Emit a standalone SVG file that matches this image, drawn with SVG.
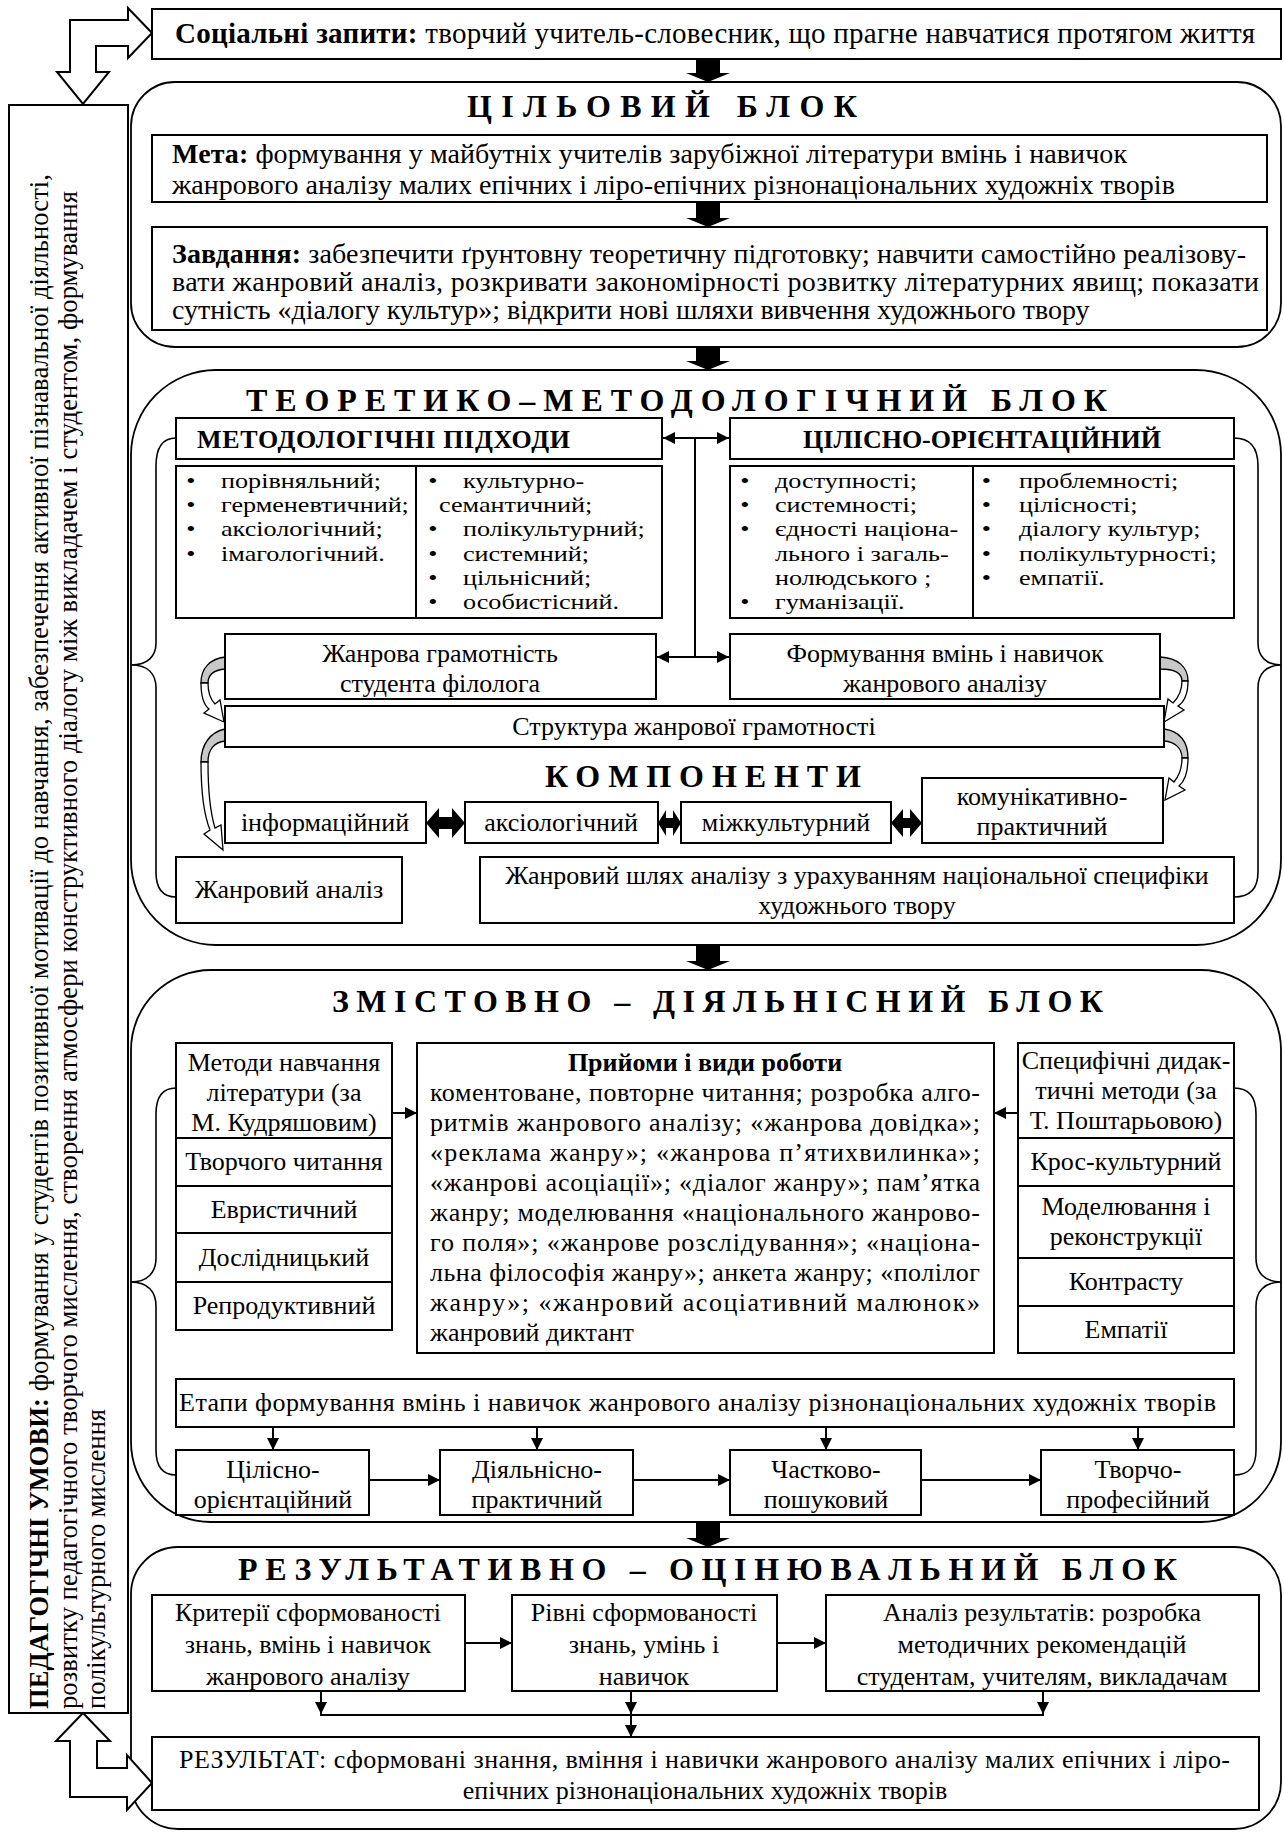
<svg xmlns="http://www.w3.org/2000/svg" width="1284" height="1832" viewBox="0 0 1284 1832">
<style>
.t{font-family:"Liberation Serif","Times New Roman",serif;font-size:26px;fill:#000}
.li{font-family:"Liberation Serif","Times New Roman",serif;font-size:21.8px;fill:#000}
.m{text-anchor:middle}
.b{font-weight:bold}
.h{font-family:"Liberation Serif","Times New Roman",serif;font-size:32px;font-weight:bold;fill:#000}
.box{fill:#fff;stroke:#000;stroke-width:2}
.blk{fill:#fff;stroke:#000;stroke-width:1.8}
.ln{fill:none;stroke:#000;stroke-width:2}
.br{fill:none;stroke:#000;stroke-width:1.6}
.fat{fill:#000;stroke:none}
.hol{fill:#fff;stroke:#000;stroke-width:2;stroke-linejoin:miter}
.gr{fill:#c8c8c8;stroke:#000;stroke-width:1.3}
.wh{fill:#fff;stroke:#000;stroke-width:1.3}
</style>
<defs>
<marker id="ah" viewBox="0 0 12 12" refX="12" refY="6" markerWidth="13" markerHeight="12" markerUnits="userSpaceOnUse" orient="auto-start-reverse"><path d="M0,0 L12,6 L0,12 z" fill="#000"/></marker>
</defs>
<rect width="1284" height="1832" fill="#fff"/>

<!-- outer blocks -->
<g id="block-goal"><rect class="blk" x="131" y="82" width="1150" height="265" rx="44"/><text class="h" x="467" y="117" textLength="390">ЦІЛЬОВИЙ БЛОК</text></g>
<g id="block-theory"><rect class="blk" x="131" y="370" width="1150" height="575" rx="85"/><text class="h" x="246" y="411" textLength="861">ТЕОРЕТИКО–МЕТОДОЛОГІЧНИЙ БЛОК</text></g>
<g id="block-content"><rect class="blk" x="131" y="970" width="1150" height="552" rx="80"/><text class="h" x="332" y="1012" textLength="771">ЗМІСТОВНО – ДІЯЛЬНІСНИЙ БЛОК</text></g>
<g id="block-result"><rect class="blk" x="131" y="1547" width="1150" height="282" rx="47"/><text class="h" x="238" y="1580" textLength="939">РЕЗУЛЬТАТИВНО – ОЦІНЮВАЛЬНИЙ БЛОК</text></g>

<!-- connectors -->
<g id="connectors">
<path class="fat" d="M696,59 H720 V73 H730 L708,82 L686,73 H696 Z"/>
<path class="fat" d="M696,202 H720 V218 H730 L708,227 L686,218 H696 Z"/>
<path class="fat" d="M696,347 H720 V361 H730 L708,370 L686,361 H696 Z"/>
<path class="fat" d="M696,945 H720 V961 H730 L708,970 L686,961 H696 Z"/>
<path class="fat" d="M696,1522 H720 V1538 H730 L708,1547 L686,1538 H696 Z"/>
<line class="ln" x1="663" y1="438" x2="729" y2="438" marker-start="url(#ah)" marker-end="url(#ah)"/>
<line class="ln" x1="695" y1="438" x2="695" y2="657"/>
<line class="ln" x1="657" y1="657" x2="729" y2="657" marker-start="url(#ah)" marker-end="url(#ah)"/>
<path class="fat" d="M426,823 L439,808 V817 H452 V808 L465,823 L452,838 V829 H439 V838 Z"/>
<path class="fat" d="M658,823 L666,810 V818 H673 V810 L681,823 L673,836 V828 H666 V836 Z"/>
<path class="fat" d="M891,823 L903,809 V818 H910 V809 L922,823 L910,837 V828 H903 V837 Z"/>
<path class="br" d="M176,438 C162,438 156,448 156,466 L156,643 C156,656 148,665 131,665 C148,665 156,674 156,688 L156,872 C156,888 162,897 176,897"/>
<path class="br" d="M1234,438 C1250,438 1258,448 1258,466 L1258,643 C1258,656 1266,665 1281,665 C1266,665 1258,674 1258,688 L1258,872 C1258,888 1250,897 1234,897"/>
<path class="gr" d="M225,657 C210,659 201,668 201,683 L208,683 C208,675 214,670 225,669 Z"/>
<path class="wh" d="M201,683 C201,697 204,705 209,709 L204,713 L224,722 L220,700 L215,704 C210,699 208,692 208,683 Z"/>
<path class="gr" d="M225,729 C210,732 201,745 201,762 L208,762 C208,750 214,742 225,741 Z"/>
<path class="wh" d="M201,762 C201,790 204,815 210,830 L204,834 L223,850 L221,825 L215,828 C211,815 208,790 208,762 Z"/>
<path class="gr" d="M1160,657 C1178,658 1188,667 1188,681 L1182,681 C1182,672 1172,669 1160,669 Z"/>
<path class="wh" d="M1188,681 C1188,694 1184,702 1178,706 L1184,710 L1164,722 L1168,699 L1173,703 C1178,698 1182,691 1182,681 Z"/>
<path class="gr" d="M1164,729 C1180,731 1188,742 1188,758 L1182,758 C1182,748 1175,742 1164,741 Z"/>
<path class="wh" d="M1188,758 C1188,772 1185,781 1179,786 L1185,790 L1165,800 L1169,778 L1174,782 C1179,776 1182,768 1182,758 Z"/>
<line class="ln" x1="392" y1="1113" x2="417" y2="1113" marker-end="url(#ah)"/>
<line class="ln" x1="1018" y1="1113" x2="994" y2="1113" marker-end="url(#ah)"/>
<path class="br" d="M176,1088 C162,1088 156,1098 156,1114 L156,1258 C156,1272 148,1282 131,1282 C148,1282 156,1292 156,1306 L156,1450 C156,1466 162,1475 176,1475"/>
<path class="br" d="M1234,1088 C1250,1088 1256,1098 1256,1114 L1256,1258 C1256,1272 1264,1282 1281,1282 C1264,1282 1256,1292 1256,1306 L1256,1450 C1256,1466 1250,1475 1234,1475"/>
<line class="ln" x1="273" y1="1427" x2="273" y2="1450" marker-end="url(#ah)"/>
<line class="ln" x1="537" y1="1427" x2="537" y2="1450" marker-end="url(#ah)"/>
<line class="ln" x1="826" y1="1427" x2="826" y2="1450" marker-end="url(#ah)"/>
<line class="ln" x1="1138" y1="1427" x2="1138" y2="1450" marker-end="url(#ah)"/>
<line class="ln" x1="369" y1="1480" x2="440" y2="1480" marker-end="url(#ah)"/>
<line class="ln" x1="633" y1="1480" x2="730" y2="1480" marker-end="url(#ah)"/>
<line class="ln" x1="921" y1="1480" x2="1041" y2="1480" marker-end="url(#ah)"/>
<line class="ln" x1="465" y1="1643" x2="512" y2="1643" marker-end="url(#ah)"/>
<line class="ln" x1="777" y1="1643" x2="826" y2="1643" marker-end="url(#ah)"/>
<line class="ln" x1="321" y1="1691" x2="321" y2="1714" marker-end="url(#ah)"/>
<line class="ln" x1="631" y1="1691" x2="631" y2="1714" marker-end="url(#ah)"/>
<line class="ln" x1="1043" y1="1691" x2="1043" y2="1714" marker-end="url(#ah)"/>
<line class="ln" x1="320" y1="1715" x2="1044" y2="1715"/>
<line class="ln" x1="631" y1="1715" x2="631" y2="1737" marker-end="url(#ah)"/>
<path class="hol" d="M152,33 L128,8 L128,20 L70,20 L70,72 L57,72 L83,104 L109,72 L96,72 L96,46 L128,46 L128,58 Z"/>
<path class="hol" d="M83,1713 L110,1741 L97,1741 L97,1768 L127,1768 L127,1755 L152,1783 L127,1810 L127,1797 L70,1797 L70,1741 L56,1741 Z"/>
</g>

<!-- left conditions -->
<g id="conditions">
<rect class="box" x="9" y="105" width="119" height="1608"/>
<text class="t" style="font-size:26.5px" transform="translate(48,1709) rotate(-90)" textLength="1535"><tspan class="b">ПЕДАГОГІЧНІ УМОВИ:</tspan> формування у студентів позитивної мотивації до навчання, забезпечення активної пізнавальної діяльності,</text>
<text class="t" style="font-size:26.5px" transform="translate(77,1709) rotate(-90)" textLength="1518">розвитку педагогічного творчого мислення, створення атмосфери конструктивного діалогу між викладачем і студентом, формування</text>
<text class="t" style="font-size:26.5px" transform="translate(105,1709) rotate(-90)">полікультурного мислення</text>
</g>

<g id="social"><rect class="box" x="152" y="9" width="1129" height="50"/><text class="t" style="font-size:29px" x="175" y="43" textLength="1080"><tspan class="b">Соціальні запити:</tspan> творчий учитель-словесник, що прагне навчатися протягом життя</text></g>

<g id="goal"><rect class="box" x="152" y="135" width="1115" height="67"/>
<text class="t" style="font-size:28px" x="172" y="163" textLength="955"><tspan class="b">Мета:</tspan> формування у майбутніх учителів зарубіжної літератури вмінь і навичок</text>
<text class="t" style="font-size:28px" x="172" y="194">жанрового аналізу малих епічних і ліро-епічних різнонаціональних художніх творів</text></g>

<g id="tasks"><rect class="box" x="152" y="227" width="1115" height="103"/>
<text class="t" style="font-size:28px" x="172" y="263" textLength="1074"><tspan class="b">Завдання:</tspan> забезпечити ґрунтовну теоретичну підготовку; навчити самостійно реалізову-</text>
<text class="t" style="font-size:28px" x="172" y="291" textLength="1087">вати жанровий аналіз, розкривати закономірності розвитку літературних явищ; показати</text>
<text class="t" style="font-size:28px" x="172" y="319">сутність «діалогу культур»; відкрити нові шляхи вивчення художнього твору</text></g>

<g id="approaches"><rect class="box" x="176" y="418" width="486" height="41"/><text class="t b" x="197" y="448" textLength="373">МЕТОДОЛОГІЧНІ ПІДХОДИ</text></g>
<g id="principles"><rect class="box" x="730" y="418" width="504" height="41"/><text class="t b m" x="982" y="448">ЦІЛІСНО-ОРІЄНТАЦІЙНИЙ</text></g>

<g id="approaches-list"><rect class="box" x="176" y="466" width="486" height="152"/><line class="ln" x1="416" y1="466" x2="416" y2="618"/>
<text class="li" transform="translate(221,0) scale(1.2,1)"><tspan x="-29" y="488">•</tspan><tspan x="0" y="488">порівняльний;</tspan><tspan x="-29" y="512.2">•</tspan><tspan x="0" y="512.2">герменевтичний;</tspan><tspan x="-29" y="536.4">•</tspan><tspan x="0" y="536.4">аксіологічний;</tspan><tspan x="-29" y="560.6">•</tspan><tspan x="0" y="560.6">імагологічний.</tspan></text>
<text class="li" transform="translate(463,0) scale(1.2,1)"><tspan x="-29" y="488">•</tspan><tspan x="0" y="488">культурно-</tspan><tspan x="-20" y="512.2">семантичний;</tspan><tspan x="-29" y="536.4">•</tspan><tspan x="0" y="536.4">полікультурний;</tspan><tspan x="-29" y="560.6">•</tspan><tspan x="0" y="560.6">системний;</tspan><tspan x="-29" y="584.8">•</tspan><tspan x="0" y="584.8">цільнісний;</tspan><tspan x="-29" y="609">•</tspan><tspan x="0" y="609">особистісний.</tspan></text>
</g>

<g id="principles-list"><rect class="box" x="730" y="466" width="504" height="152"/><line class="ln" x1="973" y1="466" x2="973" y2="618"/>
<text class="li" transform="translate(775,0) scale(1.2,1)"><tspan x="-29" y="488">•</tspan><tspan x="0" y="488">доступності;</tspan><tspan x="-29" y="512.2">•</tspan><tspan x="0" y="512.2">системності;</tspan><tspan x="-29" y="536.4">•</tspan><tspan x="0" y="536.4">єдності  націона-</tspan><tspan x="0" y="560.6">льного і загаль-</tspan><tspan x="0" y="584.8">нолюдського ;</tspan><tspan x="-29" y="609">•</tspan><tspan x="0" y="609">гуманізації.</tspan></text>
<text class="li" transform="translate(1019,0) scale(1.2,1)"><tspan x="-31" y="488">•</tspan><tspan x="0" y="488">проблемності;</tspan><tspan x="-31" y="512.2">•</tspan><tspan x="0" y="512.2">цілісності;</tspan><tspan x="-31" y="536.4">•</tspan><tspan x="0" y="536.4">діалогу культур;</tspan><tspan x="-31" y="560.6">•</tspan><tspan x="0" y="560.6">полікультурності;</tspan><tspan x="-31" y="584.8">•</tspan><tspan x="0" y="584.8">емпатії.</tspan></text>
</g>

<g id="literacy"><rect class="box" x="225" y="634" width="431" height="65"/><text class="t m" x="440" y="662">Жанрова грамотність</text><text class="t m" x="440" y="692">студента філолога</text></g>
<g id="skills"><rect class="box" x="730" y="634" width="430" height="65"/><text class="t m" x="945" y="662">Формування вмінь і навичок</text><text class="t m" x="945" y="692">жанрового аналізу</text></g>
<g id="structure"><rect class="box" x="225" y="706" width="939" height="41"/><text class="t m" x="694" y="735">Структура жанрової грамотності</text></g>
<g id="components-title"><text class="h" x="545" y="787" textLength="316">КОМПОНЕНТИ</text></g>
<g id="c-info"><rect class="box" x="225" y="802" width="201" height="41"/><text class="t m" x="325" y="831">інформаційний</text></g>
<g id="c-axio"><rect class="box" x="465" y="802" width="193" height="41"/><text class="t m" x="561" y="831">аксіологічний</text></g>
<g id="c-inter"><rect class="box" x="681" y="802" width="210" height="41"/><text class="t m" x="786" y="831">міжкультурний</text></g>
<g id="c-comm"><rect class="box" x="922" y="778" width="241" height="65"/><text class="t m" x="1042" y="805">комунікативно-</text><text class="t m" x="1042" y="835">практичний</text></g>
<g id="genre-analysis"><rect class="box" x="176" y="857" width="226" height="66"/><text class="t m" x="289" y="898">Жанровий аналіз</text></g>
<g id="genre-path"><rect class="box" x="480" y="857" width="754" height="66"/><text class="t m" x="857" y="884">Жанровий шлях аналізу з урахуванням національної специфіки</text><text class="t m" x="857" y="914">художнього твору</text></g>

<g id="methods">
<rect class="box" x="176" y="1043" width="216" height="95"/><rect class="box" x="176" y="1138" width="216" height="48"/><rect class="box" x="176" y="1186" width="216" height="47"/><rect class="box" x="176" y="1233" width="216" height="49"/><rect class="box" x="176" y="1282" width="216" height="48"/>
<text class="t m" x="284" y="1071">Методи навчання</text><text class="t m" x="284" y="1101">літератури (за</text><text class="t m" x="284" y="1131">М. Кудряшовим)</text>
<text class="t m" x="284" y="1170">Творчого читання</text>
<text class="t m" x="284" y="1218">Евристичний</text>
<text class="t m" x="284" y="1266">Дослідницький</text>
<text class="t m" x="284" y="1314">Репродуктивний</text>
</g>

<g id="techniques"><rect class="box" x="417" y="1043" width="577" height="310"/>
<text class="t b m" x="705" y="1071">Прийоми і види роботи</text>
<text class="t" x="430" y="1101" textLength="550">коментоване, повторне читання; розробка алго-</text>
<text class="t" x="430" y="1131" textLength="550">ритмів жанрового аналізу; «жанрова довідка»;</text>
<text class="t" x="430" y="1161" textLength="550">«реклама жанру»; «жанрова п’ятихвилинка»;</text>
<text class="t" x="430" y="1191" textLength="550">«жанрові асоціації»; «діалог жанру»; пам’ятка</text>
<text class="t" x="430" y="1221" textLength="550">жанру; моделювання «національного жанрово-</text>
<text class="t" x="430" y="1251" textLength="550">го поля»; «жанрове розслідування»; «націона-</text>
<text class="t" x="430" y="1281" textLength="550">льна філософія жанру»; анкета жанру; «полілог</text>
<text class="t" x="430" y="1311" textLength="550">жанру»; «жанровий асоціативний малюнок»</text>
<text class="t" x="430" y="1341">жанровий диктант</text>
</g>

<g id="specific">
<rect class="box" x="1018" y="1043" width="216" height="95"/><rect class="box" x="1018" y="1138" width="216" height="48"/><rect class="box" x="1018" y="1186" width="216" height="72"/><rect class="box" x="1018" y="1258" width="216" height="48"/><rect class="box" x="1018" y="1306" width="216" height="47"/>
<text class="t m" x="1126" y="1069">Специфічні дидак-</text><text class="t m" x="1126" y="1099">тичні методи (за</text><text class="t m" x="1126" y="1129">Т. Поштарьовою)</text>
<text class="t m" x="1126" y="1170">Крос-культурний</text>
<text class="t m" x="1126" y="1215">Моделювання і</text><text class="t m" x="1126" y="1245">реконструкції</text>
<text class="t m" x="1126" y="1290">Контрасту</text>
<text class="t m" x="1126" y="1338">Емпатії</text>
</g>

<g id="stages"><rect class="box" x="176" y="1379" width="1058" height="48"/><text class="t" x="179" y="1411" textLength="1037">Етапи формування  вмінь і навичок жанрового аналізу різнонаціональних художніх творів</text></g>
<g id="s1"><rect class="box" x="176" y="1450" width="193" height="65"/><text class="t m" x="273" y="1478">Цілісно-</text><text class="t m" x="273" y="1508">орієнтаційний</text></g>
<g id="s2"><rect class="box" x="440" y="1450" width="193" height="65"/><text class="t m" x="537" y="1478">Діяльнісно-</text><text class="t m" x="537" y="1508">практичний</text></g>
<g id="s3"><rect class="box" x="730" y="1450" width="191" height="65"/><text class="t m" x="826" y="1478">Частково-</text><text class="t m" x="826" y="1508">пошуковий</text></g>
<g id="s4"><rect class="box" x="1041" y="1450" width="193" height="65"/><text class="t m" x="1138" y="1478">Творчо-</text><text class="t m" x="1138" y="1508">професійний</text></g>

<g id="criteria"><rect class="box" x="152" y="1595" width="313" height="96"/><text class="t m" x="308" y="1621">Критерії сформованості</text><text class="t m" x="308" y="1653">знань, вмінь і навичок</text><text class="t m" x="308" y="1685">жанрового аналізу</text></g>
<g id="levels"><rect class="box" x="512" y="1595" width="265" height="96"/><text class="t m" x="644" y="1621">Рівні сформованості</text><text class="t m" x="644" y="1653">знань, умінь і</text><text class="t m" x="644" y="1685">навичок</text></g>
<g id="analysis"><rect class="box" x="826" y="1595" width="433" height="96"/><text class="t m" x="1042" y="1621">Аналіз результатів: розробка</text><text class="t m" x="1042" y="1653">методичних рекомендацій</text><text class="t m" x="1042" y="1685">студентам, учителям, викладачам</text></g>
<g id="result"><rect class="box" x="152" y="1737" width="1107" height="73"/><text class="t" x="179" y="1768" textLength="1051">РЕЗУЛЬТАТ: сформовані знання, вміння і навички жанрового аналізу малих епічних і ліро-</text><text class="t m" x="705" y="1799">епічних різнонаціональних художніх творів</text></g>
</svg>
